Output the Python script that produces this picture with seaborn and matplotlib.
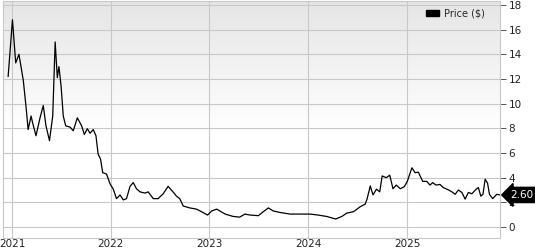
import numpy as np
import pandas as pd
import matplotlib
matplotlib.use("Agg")
import matplotlib.pyplot as plt
import matplotlib.transforms as mtransforms
from matplotlib.patches import Patch
import seaborn as sns

dates = [
    "2020-12-17", "2021-01-02", "2021-01-14", "2021-01-26", "2021-02-11", "2021-02-21",
    "2021-03-01", "2021-03-12", "2021-03-17", "2021-03-30", "2021-04-14", "2021-04-26",
    "2021-05-06", "2021-05-19", "2021-05-31", "2021-06-09", "2021-06-17", "2021-06-23",
    "2021-07-01", "2021-07-09", "2021-07-18", "2021-08-03", "2021-08-15", "2021-08-30",
    "2021-09-15", "2021-09-25", "2021-10-06", "2021-10-16", "2021-10-28", "2021-11-07",
    "2021-11-15", "2021-11-24", "2021-12-02", "2021-12-16", "2021-12-29", "2022-01-10",
    "2022-01-22", "2022-02-04", "2022-02-16", "2022-02-28", "2022-03-13", "2022-03-25",
    "2022-04-06", "2022-04-19", "2022-05-07", "2022-05-19", "2022-06-07", "2022-06-25",
    "2022-07-14", "2022-08-01", "2022-08-19", "2022-09-01", "2022-09-13", "2022-09-26",
    "2022-10-20", "2022-11-14", "2022-12-08", "2022-12-25", "2023-01-09", "2023-01-28",
    "2023-02-28", "2023-03-29", "2023-04-23", "2023-05-12", "2023-05-31", "2023-07-01",
    "2023-07-19", "2023-08-07", "2023-08-25", "2023-09-19", "2023-10-26", "2023-12-02",
    "2024-01-08", "2024-02-07", "2024-03-09", "2024-04-12", "2024-05-05", "2024-05-23",
    "2024-06-17", "2024-07-12", "2024-07-30", "2024-08-06", "2024-08-18", "2024-08-28",
    "2024-09-10", "2024-09-22", "2024-10-01", "2024-10-16", "2024-10-29", "2024-11-10",
    "2024-11-22", "2024-12-07", "2024-12-22", "2025-01-02", "2025-01-19", "2025-01-31",
    "2025-02-12", "2025-02-28", "2025-03-15", "2025-03-27", "2025-04-06", "2025-04-18",
    "2025-05-03", "2025-05-15", "2025-06-04", "2025-06-16", "2025-06-28", "2025-07-10",
    "2025-07-23", "2025-08-04", "2025-08-16", "2025-08-29", "2025-09-14", "2025-09-22",
    "2025-10-01", "2025-10-09", "2025-10-17", "2025-10-26", "2025-11-02", "2025-11-14",
    "2025-11-29", "2025-12-11",
]
prices = [
    12.2, 16.8, 13.3, 14.0, 11.9, 9.8,
    7.9, 9.0, 8.5, 7.4, 8.85, 9.85,
    8.2, 7.0, 9.0, 15.0, 12.1, 13.0,
    11.4, 9.0, 8.2, 8.1, 7.8, 8.85,
    8.2, 7.5, 7.97, 7.6, 7.9, 7.4,
    5.9, 5.5, 4.4, 4.3, 3.5, 3.07,
    2.3, 2.6, 2.2, 2.3, 3.3, 3.6,
    3.1, 2.85, 2.75, 2.85, 2.3, 2.3,
    2.7, 3.3, 2.85, 2.5, 2.3, 1.7,
    1.55, 1.45, 1.18, 0.97, 1.3, 1.45,
    1.05, 0.86, 0.8, 1.05, 0.97, 0.92,
    1.24, 1.55, 1.3, 1.18, 1.05, 1.05,
    1.05, 0.97, 0.86, 0.65, 0.86, 1.13,
    1.24, 1.65, 1.85, 2.26, 3.33, 2.6,
    3.07, 2.85, 4.14, 4.0, 4.2, 3.1,
    3.4, 3.1, 3.27, 3.7, 4.8, 4.4,
    4.45, 3.7, 3.7, 3.4, 3.6, 3.4,
    3.45, 3.2, 3.0, 2.85, 2.65, 3.0,
    2.8, 2.26, 2.8, 2.7, 3.07, 3.2,
    2.5, 2.65, 3.87, 3.55, 2.65, 2.3,
    2.65, 2.6,
]
year_ticks = ["2021", "2022", "2023", "2024", "2025"]
y_ticks = [0, 2, 4, 6, 8, 10, 12, 14, 16, 18]
last_label = "2.60"
series_name = "Price ($)"

df = pd.DataFrame({"Date": pd.to_datetime(dates), "Price": prices})

sns.set_theme(style="white")
plt.rcParams["font.family"] = ["DejaVu Sans"]

fig = plt.figure(figsize=(5.35, 2.5), dpi=100)
ax = fig.add_axes([3 / 535, 12 / 250, 497 / 535, 237 / 250])

# background gradient (grey at top fading to white)
grad = np.linspace(0, 1, 256).reshape(-1, 1)
top = np.array([0.90, 0.90, 0.90])
bot = np.array([1.0, 1.0, 1.0])
t = np.clip(grad / 0.55, 0, 1)
img = top + (bot - top) * t
img = np.repeat(img[:, None, :], 2, axis=1)
ax.imshow(img, extent=[0, 1, 0, 1], origin="upper", transform=ax.transAxes,
          aspect="auto", zorder=0)

sns.lineplot(data=df, x="Date", y="Price", ax=ax, color="black", linewidth=0.9,
             legend=False, zorder=3)

ax.set_xlim(pd.Timestamp("2020-11-28"), pd.Timestamp("2025-12-11"))
ax.set_ylim(-0.89, 18.32)

ax.set_xticks(pd.to_datetime([y + "-01-01" for y in year_ticks]))
ax.set_xticklabels(year_ticks)
ax.set_yticks(y_ticks)
ax.set_yticklabels([str(v) for v in y_ticks])
ax.yaxis.tick_right()
ax.set_xlabel("")
ax.set_ylabel("")

ax.grid(True, color="#c8c8c8", linewidth=0.8, zorder=1)
ax.set_axisbelow(True)
for s in ax.spines.values():
    s.set_color("#c8c8c8")
    s.set_linewidth(0.8)

ax.tick_params(axis="x", length=0, pad=1, labelsize=7.5, labelcolor="#222222")
ax.tick_params(axis="y", right=True, left=False, length=4, width=0.7, color="#555555",
               pad=2, labelsize=7.5, labelcolor="#222222")

handle = Patch(facecolor="black", edgecolor="black", label=series_name)
ax.legend(handles=[handle], loc="upper right", frameon=False, fontsize=7,
          handlelength=1.3, handleheight=0.55, handletextpad=0.5,
          borderaxespad=0.4, bbox_to_anchor=(0.985, 1.0))

trans = mtransforms.blended_transform_factory(ax.transAxes, ax.transData)
ax.text(1.0 + 10 / 497, prices[-1], last_label, transform=trans, color="white",
        fontsize=7.5, va="center", ha="left", zorder=10, clip_on=False,
        bbox=dict(boxstyle="larrow,pad=0.25", fc="black", ec="black"))

fig.savefig("out.png", dpi=100)
